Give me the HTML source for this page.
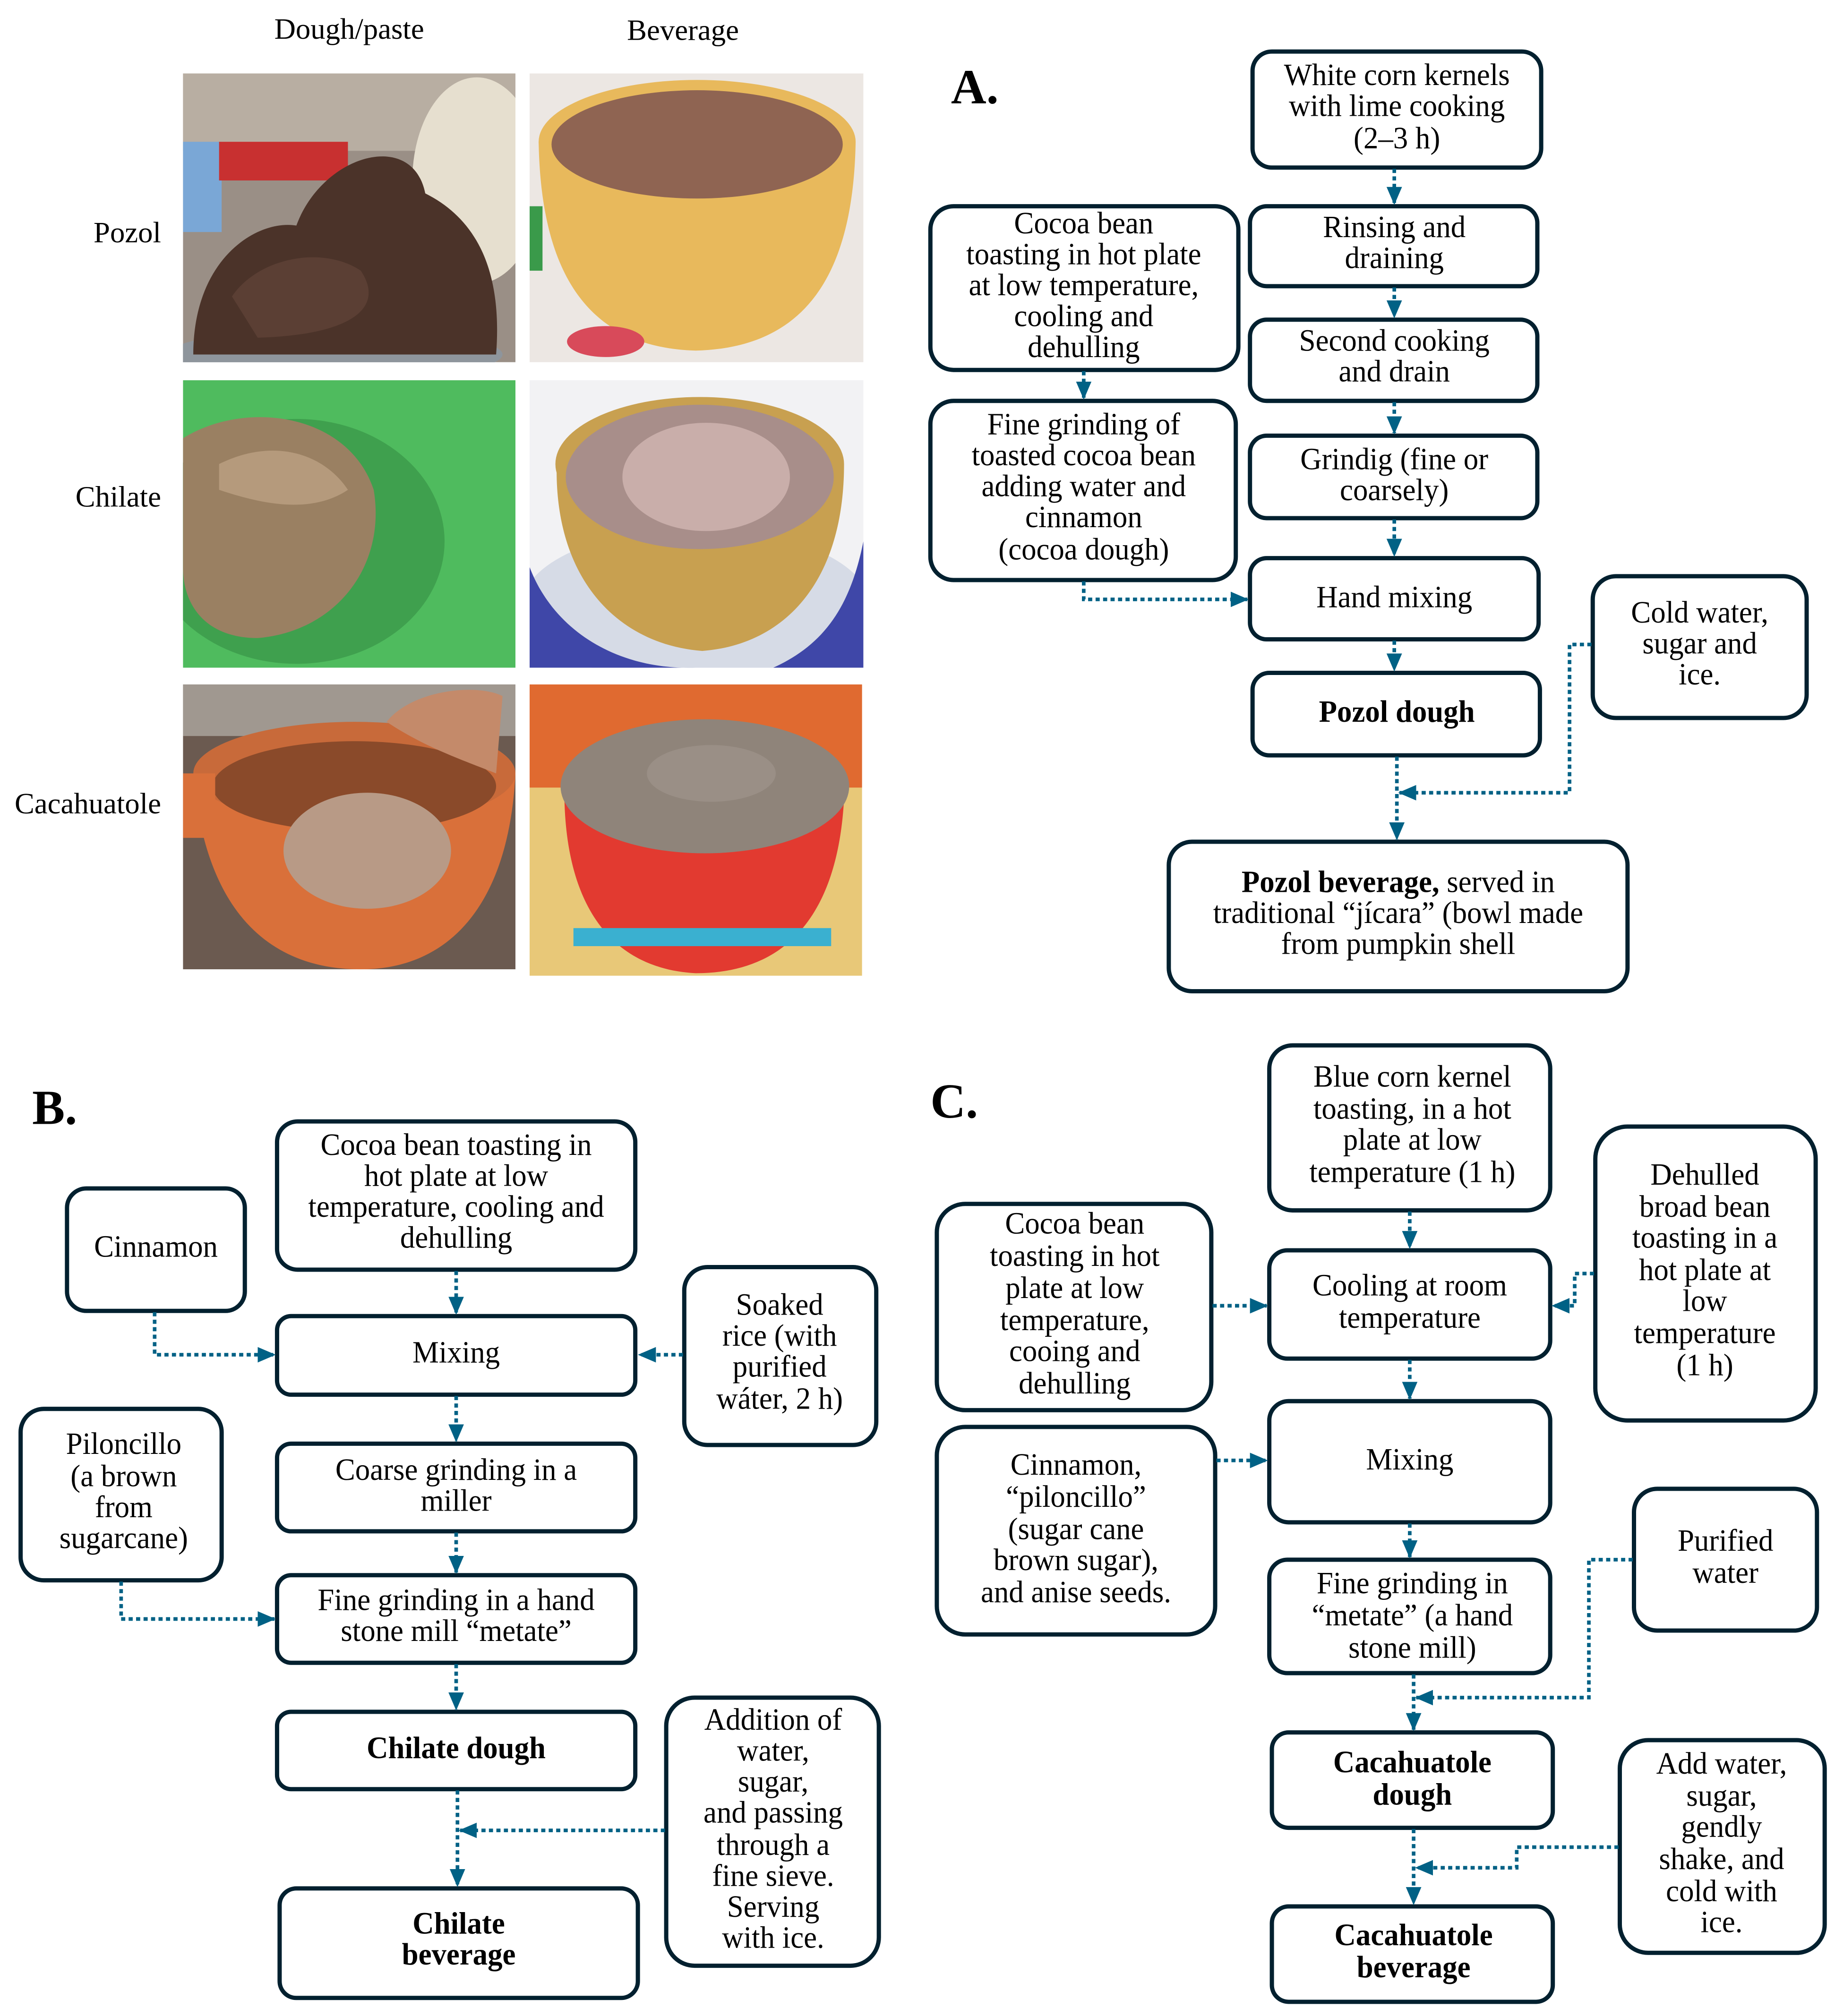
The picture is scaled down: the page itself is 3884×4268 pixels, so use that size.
<!DOCTYPE html>
<html><head><meta charset="utf-8"><style>
html,body{margin:0;padding:0;background:#fff;}
svg{display:block}
text{font-family:"Liberation Serif",serif;fill:#000}
.b{fill:#fff;stroke:#02202f;stroke-width:3.3}
.d{fill:none;stroke:#006185;stroke-width:2.8;stroke-dasharray:3.2 2.6}
</style></head><body>
<svg width="3884" height="4268" viewBox="0 0 1424 1564" preserveAspectRatio="none" xmlns="http://www.w3.org/2000/svg">
<defs>
<marker id="a" markerUnits="userSpaceOnUse" markerWidth="14" markerHeight="14" refX="13" refY="7" orient="auto"><path d="M0,1 L14,7 L0,13 Z" fill="#006185"/></marker>
<clipPath id="c1"><rect x="142" y="57" width="258" height="224"/></clipPath>
<clipPath id="c2"><rect x="411" y="57" width="259" height="224"/></clipPath>
<clipPath id="c3"><rect x="142" y="295" width="258" height="223"/></clipPath>
<clipPath id="c4"><rect x="411" y="295" width="259" height="223"/></clipPath>
<clipPath id="c5"><rect x="142" y="531" width="258" height="221"/></clipPath>
<clipPath id="c6"><rect x="411" y="531" width="258" height="226"/></clipPath>
</defs>

<text x="271" y="30" font-size="23" text-anchor="middle">Dough/paste</text>
<text x="530" y="31" font-size="23" text-anchor="middle">Beverage</text>
<text x="125" y="188" font-size="23" text-anchor="end">Pozol</text>
<text x="125" y="393" font-size="23" text-anchor="end">Chilate</text>
<text x="125" y="631" font-size="23" text-anchor="end">Cacahuatole</text>

<g clip-path="url(#c1)">
<rect x="142" y="57" width="258" height="224" fill="#9a8f86"/>
<rect x="142" y="57" width="258" height="60" fill="#b8aea2"/>
<ellipse cx="370" cy="140" rx="50" ry="80" fill="#e6dfcf"/>
<rect x="142" y="110" width="30" height="70" fill="#7aa7d6"/>
<rect x="170" y="110" width="100" height="30" fill="#c83030"/>
<ellipse cx="260" cy="275" rx="130" ry="20" fill="#8e959c"/>
<path d="M150,275 C150,200 200,170 230,175 C250,120 320,100 330,150 C370,170 390,210 385,275 Z" fill="#4b3329"/>
<path d="M180,230 C200,200 250,190 280,210 C300,240 270,260 200,262Z" fill="#5b3f34"/>
</g>
<g clip-path="url(#c2)">
<rect x="411" y="57" width="259" height="224" fill="#ece7e3"/>
<path d="M418,110 C420,230 470,270 540,272 C620,270 662,220 664,110 Z" fill="#e8b95c"/>
<ellipse cx="541" cy="110" rx="123" ry="48" fill="#e8b95c"/>
<ellipse cx="541" cy="112" rx="113" ry="42" fill="#8f6452"/>
<ellipse cx="470" cy="265" rx="30" ry="12" fill="#d84a5a"/>
<rect x="411" y="160" width="10" height="50" fill="#3a9a4a"/>
</g>
<g clip-path="url(#c3)">
<rect x="142" y="295" width="258" height="223" fill="#4fbb5e"/>
<ellipse cx="230" cy="420" rx="115" ry="95" fill="#3fa04e"/>
<path d="M142,340 C190,310 270,320 290,380 C300,440 260,490 200,495 C160,495 142,470 142,440 Z" fill="#9a8062"/>
<path d="M170,360 C210,340 250,350 270,380 C240,400 200,390 170,380Z" fill="#b59a7c"/>
</g>
<g clip-path="url(#c4)">
<rect x="411" y="295" width="259" height="223" fill="#f2f2f4"/>
<ellipse cx="540" cy="470" rx="135" ry="60" fill="#d6dbe6"/>
<path d="M411,440 C430,490 480,520 540,518 L411,518 Z" fill="#3f47a8"/>
<path d="M670,420 L670,518 L600,518 C640,500 660,470 670,420Z" fill="#3f47a8"/>
<path d="M432,360 C430,450 480,500 545,505 C610,500 655,450 655,360 Z" fill="#c8a050"/>
<ellipse cx="543" cy="360" rx="112" ry="52" fill="#c8a050"/>
<ellipse cx="543" cy="370" rx="104" ry="56" fill="#a88e8a"/>
<ellipse cx="548" cy="370" rx="65" ry="42" fill="#c9aeaa"/>
</g>
<g clip-path="url(#c5)">
<rect x="142" y="531" width="258" height="221" fill="#6b5a50"/>
<rect x="142" y="531" width="258" height="40" fill="#a09890"/>
<path d="M150,600 C160,720 220,752 280,752 C350,752 395,700 400,600 Z" fill="#d9703a"/>
<ellipse cx="275" cy="600" rx="125" ry="40" fill="#c86a3a"/>
<ellipse cx="275" cy="610" rx="110" ry="35" fill="#8a4a2a"/>
<rect x="142" y="600" width="25" height="50" fill="#d9703a"/>
<ellipse cx="285" cy="660" rx="65" ry="45" fill="#b89a86"/>
<path d="M300,560 C320,535 370,530 390,540 L385,600 C360,590 330,580 300,560Z" fill="#c48a6a"/>
</g>
<g clip-path="url(#c6)">
<rect x="411" y="531" width="258" height="226" fill="#e8c878"/>
<rect x="411" y="531" width="258" height="80" fill="#e06a30"/>
<path d="M438,620 C440,710 480,752 540,755 C610,755 650,710 655,620 Z" fill="#e23a30"/>
<rect x="445" y="720" width="200" height="14" fill="#3ab0d0"/>
<ellipse cx="547" cy="610" rx="112" ry="52" fill="#8f847a"/>
<ellipse cx="552" cy="600" rx="50" ry="22" fill="#9a8f86"/>
</g>

<!-- ===== Panel A ===== -->
<text x="738" y="80" font-size="38" font-weight="bold">A.</text>
<rect class="b" x="972" y="40" width="224" height="90" rx="15"/>
<rect class="b" x="970" y="160" width="223" height="62" rx="13"/>
<rect class="b" x="970" y="248" width="223" height="63" rx="13"/>
<rect class="b" x="970" y="338" width="223" height="64" rx="13"/>
<rect class="b" x="970" y="433" width="224" height="63" rx="13"/>
<rect class="b" x="972" y="522" width="223" height="64" rx="13"/>
<rect class="b" x="1236" y="447" width="166" height="110" rx="18"/>
<rect class="b" x="907" y="653" width="356" height="116" rx="18"/>
<rect class="b" x="722" y="160" width="239" height="127" rx="18"/>
<rect class="b" x="722" y="311" width="237" height="139" rx="18"/>

<g font-size="24" text-anchor="middle">
<g transform="translate(1084,0) scale(0.96,1)"><text y="66">White corn kernels</text><text y="90">with lime  cooking</text><text y="115">(2–3 h)</text></g>
<g transform="translate(1082,0) scale(0.96,1)"><text y="184">Rinsing and</text><text y="208">draining</text></g>
<g transform="translate(1082,0) scale(0.96,1)"><text y="272">Second cooking</text><text y="296">and drain</text></g>
<g transform="translate(1082,0) scale(0.96,1)"><text y="364">Grindig (fine or</text><text y="388">coarsely)</text></g>
<g transform="translate(1082,0) scale(0.96,1)"><text y="471">Hand mixing</text></g>
<g transform="translate(1084,0) scale(0.96,1)"><text y="560" font-weight="bold">Pozol dough</text></g>
<g transform="translate(1319,0) scale(0.96,1)"><text y="483">Cold water,</text><text y="507">sugar and</text><text y="531">ice.</text></g>
<g transform="translate(1085,0) scale(0.96,1)"><text y="692"><tspan font-weight="bold">Pozol beverage,</tspan> served in</text><text y="716">traditional “jícara” (bowl made</text><text y="740">from pumpkin shell</text></g>
<g transform="translate(841,0) scale(0.96,1)"><text y="181">Cocoa bean</text><text y="205">toasting in hot plate</text><text y="229">at low temperature,</text><text y="253">cooling and</text><text y="277">dehulling</text></g>
<g transform="translate(841,0) scale(0.96,1)"><text y="337">Fine grinding of</text><text y="361">toasted cocoa bean</text><text y="385">adding water and</text><text y="409">cinnamon</text><text y="434">(cocoa dough)</text></g>
</g>
<path class="d" d="M1082,131 V158" marker-end="url(#a)"/>
<path class="d" d="M1082,223 V246" marker-end="url(#a)"/>
<path class="d" d="M1082,312 V336" marker-end="url(#a)"/>
<path class="d" d="M1082,403 V431" marker-end="url(#a)"/>
<path class="d" d="M1082,497 V520" marker-end="url(#a)"/>
<path class="d" d="M841,288 V309" marker-end="url(#a)"/>
<path class="d" d="M841,451 V465 H968" marker-end="url(#a)"/>
<path class="d" d="M1084,587 V651" marker-end="url(#a)"/>
<path class="d" d="M1235,500 H1218 V615 H1086" marker-end="url(#a)"/>

<!-- ===== Panel B ===== -->
<text x="25" y="872" font-size="38" font-weight="bold">B.</text>
<rect class="b" x="215" y="870" width="278" height="115" rx="16"/>
<rect class="b" x="52" y="922" width="138" height="95" rx="15"/>
<rect class="b" x="215" y="1021" width="278" height="61" rx="11"/>
<rect class="b" x="531" y="983" width="149" height="138" rx="18"/>
<rect class="b" x="215" y="1120" width="278" height="68" rx="11"/>
<rect class="b" x="16" y="1093" width="156" height="133" rx="18"/>
<rect class="b" x="215" y="1222" width="278" height="68" rx="11"/>
<rect class="b" x="215" y="1328" width="278" height="60" rx="11"/>
<rect class="b" x="517" y="1317" width="165" height="208" rx="22"/>
<rect class="b" x="217" y="1465" width="278" height="85" rx="13"/>
<g font-size="24" text-anchor="middle">
<g transform="translate(354,0) scale(0.96,1)"><text y="896">Cocoa bean toasting in</text><text y="920">hot plate at low</text><text y="944">temperature, cooling and</text><text y="968">dehulling</text></g>
<g transform="translate(121,0) scale(0.96,1)"><text y="975">Cinnamon</text></g>
<g transform="translate(354,0) scale(0.96,1)"><text y="1057">Mixing</text></g>
<g transform="translate(605,0) scale(0.96,1)"><text y="1020">Soaked</text><text y="1044">rice (with</text><text y="1068">purified</text><text y="1093">wáter, 2 h)</text></g>
<g transform="translate(354,0) scale(0.96,1)"><text y="1148">Coarse grinding in a</text><text y="1172">miller</text></g>
<g transform="translate(96,0) scale(0.96,1)"><text y="1128">Piloncillo</text><text y="1153">(a brown</text><text y="1177">from</text><text y="1201">sugarcane)</text></g>
<g transform="translate(354,0) scale(0.96,1)"><text y="1249">Fine grinding in a hand</text><text y="1273">stone mill “metate”</text></g>
<g transform="translate(354,0) scale(0.96,1)"><text y="1364" font-weight="bold">Chilate dough</text></g>
<g transform="translate(600,0) scale(0.96,1)"><text y="1342">Addition of</text><text y="1366">water,</text><text y="1390">sugar,</text><text y="1414">and passing</text><text y="1439">through a</text><text y="1463">fine sieve.</text><text y="1487">Serving</text><text y="1511">with ice.</text></g>
<g transform="translate(356,0) scale(0.96,1)"><text y="1500" font-weight="bold">Chilate</text><text y="1524" font-weight="bold">beverage</text></g>
</g>
<path class="d" d="M354,986 V1019" marker-end="url(#a)"/>
<path class="d" d="M354,1083 V1118" marker-end="url(#a)"/>
<path class="d" d="M354,1189 V1220" marker-end="url(#a)"/>
<path class="d" d="M354,1291 V1326" marker-end="url(#a)"/>
<path class="d" d="M355,1389 V1463" marker-end="url(#a)"/>
<path class="d" d="M120,1018 V1051 H213" marker-end="url(#a)"/>
<path class="d" d="M530,1051 H496" marker-end="url(#a)"/>
<path class="d" d="M94,1227 V1256 H213" marker-end="url(#a)"/>
<path class="d" d="M516,1420 H357" marker-end="url(#a)"/>

<!-- ===== Panel C ===== -->
<text x="722" y="867" font-size="38" font-weight="bold">C.</text>
<rect class="b" x="985" y="811" width="218" height="128" rx="18"/>
<rect class="b" x="985" y="970" width="218" height="84" rx="14"/>
<rect class="b" x="1238" y="874" width="171" height="228" rx="25"/>
<rect class="b" x="727" y="934" width="213" height="160" rx="22"/>
<rect class="b" x="985" y="1087" width="218" height="94" rx="15"/>
<rect class="b" x="727" y="1107" width="216" height="161" rx="22"/>
<rect class="b" x="1268" y="1155" width="142" height="110" rx="18"/>
<rect class="b" x="985" y="1210" width="218" height="88" rx="14"/>
<rect class="b" x="987" y="1344" width="218" height="74" rx="13"/>
<rect class="b" x="1257" y="1350" width="159" height="165" rx="22"/>
<rect class="b" x="987" y="1479" width="218" height="74" rx="13"/>
<g font-size="24" text-anchor="middle">
<g transform="translate(1096,0) scale(0.96,1)"><text y="843">Blue corn kernel</text><text y="868">toasting, in a  hot</text><text y="892">plate at low</text><text y="917">temperature (1 h)</text></g>
<g transform="translate(1094,0) scale(0.96,1)"><text y="1005">Cooling at room</text><text y="1030">temperature</text></g>
<g transform="translate(1323,0) scale(0.96,1)"><text y="919">Dehulled</text><text y="944">broad bean</text><text y="968">toasting in a</text><text y="993">hot plate at</text><text y="1017">low</text><text y="1042">temperature</text><text y="1067">(1 h)</text></g>
<g transform="translate(834,0) scale(0.96,1)"><text y="957">Cocoa bean</text><text y="982">toasting in hot</text><text y="1007">plate at low</text><text y="1032">temperature,</text><text y="1056">cooing and</text><text y="1081">dehulling</text></g>
<g transform="translate(1094,0) scale(0.96,1)"><text y="1140">Mixing</text></g>
<g transform="translate(835,0) scale(0.96,1)"><text y="1144">Cinnamon,</text><text y="1169">“piloncillo”</text><text y="1194">(sugar cane</text><text y="1218">brown sugar),</text><text y="1243">and anise seeds.</text></g>
<g transform="translate(1339,0) scale(0.96,1)"><text y="1203">Purified</text><text y="1228">water</text></g>
<g transform="translate(1096,0) scale(0.96,1)"><text y="1236">Fine grinding in</text><text y="1261">“metate” (a hand</text><text y="1286">stone mill)</text></g>
<g transform="translate(1096,0) scale(0.96,1)"><text y="1375" font-weight="bold">Cacahuatole</text><text y="1400" font-weight="bold">dough</text></g>
<g transform="translate(1336,0) scale(0.96,1)"><text y="1376">Add water,</text><text y="1401">sugar,</text><text y="1425">gendly</text><text y="1450">shake, and</text><text y="1475">cold with</text><text y="1499">ice.</text></g>
<g transform="translate(1097,0) scale(0.96,1)"><text y="1509" font-weight="bold">Cacahuatole</text><text y="1534" font-weight="bold">beverage</text></g>
</g>
<path class="d" d="M1094,940 V968" marker-end="url(#a)"/>
<path class="d" d="M1094,1055 V1085" marker-end="url(#a)"/>
<path class="d" d="M1094,1182 V1208" marker-end="url(#a)"/>
<path class="d" d="M1097,1299 V1342" marker-end="url(#a)"/>
<path class="d" d="M1097,1419 V1477" marker-end="url(#a)"/>
<path class="d" d="M941,1013 H983" marker-end="url(#a)"/>
<path class="d" d="M1237,988 H1222 V1013 H1205" marker-end="url(#a)"/>
<path class="d" d="M944,1133 H983" marker-end="url(#a)"/>
<path class="d" d="M1267,1210 H1233 V1317 H1099" marker-end="url(#a)"/>
<path class="d" d="M1256,1433 H1177 V1449 H1099" marker-end="url(#a)"/>
</svg>
</body></html>
